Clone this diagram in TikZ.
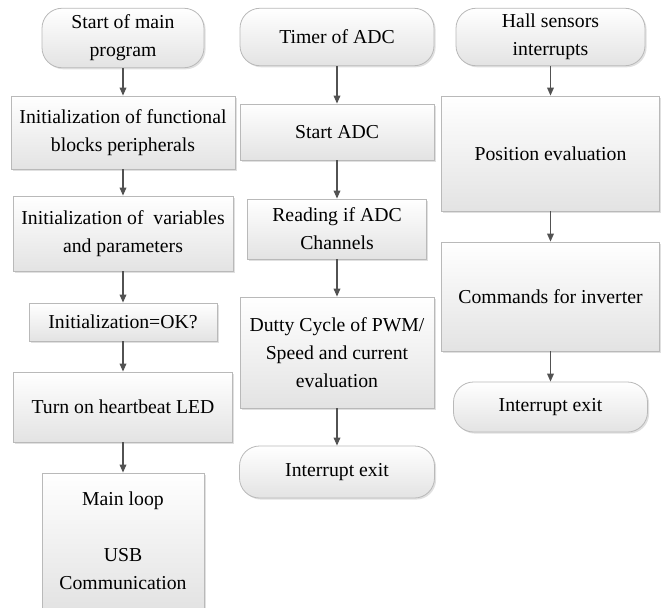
\documentclass[tikz,border=0pt]{standalone}
\usepackage{fontspec}
\setmainfont{Liberation Serif}
\usetikzlibrary{arrows.meta,shadows}
\tikzset{
  box/.style={draw=gray!55, line width=0.6pt, top color=white, bottom color=gray!22,
    shading angle=0, align=center, inner sep=0pt,
    font=\fontsize{14.8pt}{21pt}\selectfont,
    drop shadow={shadow xshift=1.2pt, shadow yshift=-1.2pt, opacity=0.35, fill=gray!70}},
  term/.style={box, rounded corners=15pt},
  arr/.style={draw=black!68, line width=1pt, -{Triangle[length=6pt,width=5pt]}}
}
\begin{document}
\begin{tikzpicture}[x=0.75pt,y=-0.75pt]
\useasboundingbox (0,0) rectangle (662,608);
% column 1
\node[term, minimum width=121.5pt, minimum height=44.6pt] (s1) at (123,38) {Start of main\\program};
\node[box, minimum width=168pt, minimum height=54.75pt] (a1) at (123,132.5) {Initialization of functional\\blocks peripherals};
\node[box, minimum width=165pt, minimum height=56.25pt] (a2) at (123,233.5) {Initialization of\ \ variables\\and parameters};
\node[box, minimum width=141pt, minimum height=28.5pt] (a3) at (123,322) {Initialization=OK?};
\node[box, minimum width=164.25pt, minimum height=52.5pt] (a4) at (123,407) {Turn on heartbeat LED};
\node[box, minimum width=121.5pt, minimum height=102pt] (a5) at (123,541) {Main loop\\[21pt]USB\\Communication};
% column 2
\node[term, minimum width=145.5pt, minimum height=43.1pt] (t0) at (337,37) {Timer of ADC};
\node[box, minimum width=145.5pt, minimum height=42pt] (b1) at (337,132) {Start ADC};
\node[box, minimum width=134.25pt, minimum height=45pt] (b2) at (337,229) {Reading if ADC\\Channels};
\node[box, minimum width=145.5pt, minimum height=83.25pt] (b3) at (337,352.5) {Dutty Cycle of PWM/\\Speed and current\\evaluation};
\node[term, minimum width=146.25pt, minimum height=39pt] (b4) at (337,472) {Interrupt exit};
% column 3
\node[term, minimum width=141.75pt, minimum height=43.1pt] (h0) at (550.5,37) {Hall sensors\\interrupts};
\node[box, minimum width=163.5pt, minimum height=86.25pt] (c1) at (550.5,153.5) {Position evaluation};
\node[box, minimum width=163.5pt, minimum height=81.75pt] (c2) at (550.5,296.5) {Commands for inverter};
\node[term, minimum width=145.5pt, minimum height=37.5pt] (c3) at (550.5,407) {Interrupt exit};
% connectors
\draw[arr] (s1) -- (a1);
\draw[arr] (a1) -- (a2);
\draw[arr] (a2) -- (a3);
\draw[arr] (a3) -- (a4);
\draw[arr] (a4) -- (a5);
\draw[arr] (t0) -- (b1);
\draw[arr] (b1) -- (b2);
\draw[arr] (b2) -- (b3);
\draw[arr] (b3) -- (b4);
\draw[arr] (h0) -- (c1);
\draw[arr] (c1) -- (c2);
\draw[arr] (c2) -- (c3);
\end{tikzpicture}
\end{document}
